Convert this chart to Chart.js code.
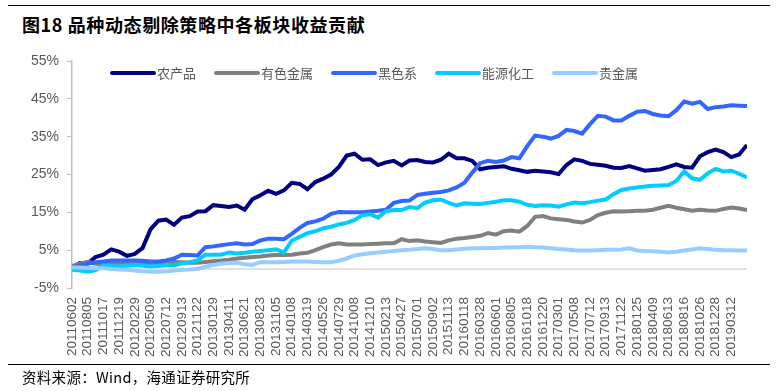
<!DOCTYPE html>
<html>
<head>
<meta charset="utf-8">
<script src="https://cdn.jsdelivr.net/npm/chart.js@4.4.1/dist/chart.umd.min.js"></script>
<style>
  html, body { margin: 0; padding: 0; background: #fff; }
  #wrap { position: relative; width: 777px; height: 391px; overflow: hidden; }
  #chart { position: absolute; left: 0; top: 0; }
  .rule { position: absolute; left: 8px; width: 762px; height: 0; border-top: 1.5px solid #000; }
  #title { position: absolute; left: 22px; top: 11px; font: bold 18px "Noto Sans CJK SC", sans-serif; letter-spacing: 0.6px; color: #000; white-space: nowrap; }
  #source { position: absolute; left: 22px; top: 366px; font: 14.5px "Noto Sans CJK SC", sans-serif; letter-spacing: 0.3px; color: #000; white-space: nowrap; }
</style>
</head>
<body>
<div id="wrap">
  <div class="rule" style="top:5px"></div>
  <div id="title">图18 品种动态剔除策略中各板块收益贡献</div>
  <canvas id="chart" width="777" height="391"></canvas>
  <div class="rule" style="top:364px"></div>
  <div id="source">资料来源：Wind，海通证券研究所</div>
</div>
<script>
// tick labels on the x axis (one every 1 unit); series sampled every half unit
const dates = ["20110602","20110805","20111017","20111219","20120229","20120509","20120712","20120913",
  "20121122","20130129","20130411","20130621","20130823","20131105","20140108","20140319","20140526",
  "20140729","20141008","20141210","20150213","20150427","20150701","20150902","20151113","20160118",
  "20160328","20160601","20160805","20161018","20161220","20170301","20170508","20170712","20170913",
  "20171122","20180125","20180409","20180613","20180816","20181026","20181228","20190312"];

const seriesNames = ["农产品", "有色金属", "黑色系", "能源化工", "贵金属"];

const agri = [0.3,1.6,1.5,3.2,3.8,5.2,4.6,3.5,4.0,5.6,10.5,12.8,13.1,11.7,13.6,14.0,15.2,15.3,16.9,16.7,
  16.4,16.8,15.7,18.5,19.5,20.7,19.9,20.8,22.8,22.5,21.1,23.0,23.9,25.0,27.0,30.0,30.5,28.9,29.0,27.5,
  28.2,28.6,27.4,28.7,28.8,28.3,28.2,28.9,30.5,29.3,29.3,28.6,26.4,26.8,27.0,27.2,26.5,26.1,25.7,26.0,
  25.8,25.6,25.1,27.5,29.0,28.6,27.8,27.6,27.3,26.8,26.7,27.2,26.6,26.0,26.2,26.4,27.0,27.7,27.0,26.8,
  29.8,30.9,31.6,30.9,29.6,30.3,32.8];

const nonferrous = [0.8,1.4,1.9,1.4,1.3,1.5,1.6,1.7,1.8,1.8,1.6,1.7,1.9,1.9,1.8,1.7,1.7,1.9,2.1,2.3,
  2.5,2.8,3.0,3.2,3.3,3.6,3.7,3.7,3.8,4.1,4.3,5.0,5.8,6.5,6.8,6.5,6.5,6.5,6.6,6.7,
  6.8,6.8,7.9,7.4,7.6,7.3,7.1,6.9,7.6,8.0,8.2,8.5,8.8,9.5,9.1,10.0,10.2,9.9,11.4,13.8,
  14.0,13.4,13.2,13.0,12.6,12.3,13.0,14.3,14.9,15.3,15.2,15.3,15.4,15.4,15.7,16.2,16.7,16.2,15.8,15.4,
  15.7,15.5,15.4,15.9,16.3,16.0,15.6];

const ferrous = [0.4,1.0,1.5,1.8,2.0,2.3,2.3,2.3,2.3,2.2,2.0,2.0,2.3,2.8,3.8,3.7,3.6,5.8,6.0,6.3,
  6.6,6.8,6.5,6.6,7.6,8.0,8.0,7.9,9.3,10.9,12.2,12.6,13.3,14.6,15.1,15.0,15.0,15.0,15.2,15.4,
  15.7,17.5,18.0,18.1,19.6,19.9,20.2,20.4,20.8,21.6,22.8,25.5,28.0,28.6,28.3,28.7,29.6,29.3,32.5,35.3,
  35.0,34.5,35.2,36.8,36.5,35.8,38.3,40.5,40.3,39.3,39.3,40.5,41.6,41.8,41.0,40.6,40.4,42.0,44.3,43.7,
  44.2,42.3,42.8,43.0,43.3,43.2,43.1];

const energy = [-0.2,-0.4,-0.7,-0.3,1.0,0.8,0.7,0.9,1.1,0.9,0.7,0.8,1.0,1.0,1.5,1.8,2.3,3.8,3.8,3.8,
  4.4,4.1,4.3,4.6,4.8,5.0,5.2,4.4,7.5,8.5,9.5,10.0,10.8,11.2,11.8,12.2,13.0,14.2,14.5,13.6,
  15.3,15.6,15.6,16.4,16.1,17.6,18.2,18.4,17.5,16.8,17.4,17.3,17.2,17.5,17.8,18.2,18.2,17.8,17.0,16.7,
  16.9,16.8,16.5,17.1,17.6,17.4,17.7,18.1,18.4,19.8,20.9,21.3,21.6,21.8,22.0,22.1,22.2,23.3,25.8,24.0,
  23.6,25.3,26.5,25.8,26.0,25.2,24.2];

const precious = [0.4,0.4,0.3,0.2,0.2,0.0,-0.1,-0.2,-0.4,-0.6,-0.7,-0.7,-0.6,-0.4,-0.2,-0.1,0.1,0.6,1.1,1.4,
  1.6,1.7,1.3,1.1,1.9,1.8,1.8,1.9,2.0,2.0,2.0,1.9,1.8,1.8,2.2,2.8,3.6,3.9,4.2,4.4,
  4.6,4.8,5.0,5.1,5.3,5.5,5.3,5.0,5.0,5.2,5.4,5.5,5.5,5.6,5.6,5.7,5.8,5.8,5.9,5.8,
  5.7,5.5,5.3,5.2,5.0,4.9,4.9,5.0,5.1,5.1,5.2,5.5,4.9,4.8,4.7,4.6,4.4,4.6,4.9,5.2,
  5.5,5.3,5.1,5.0,5.0,4.9,4.9];

const yTicks = [-5, 5, 15, 25, 35, 45, 55];

const colors = ["#000080", "#808080", "#3366ff", "#00ccff", "#99ccff"];
const allSeries = [agri, nonferrous, ferrous, energy, precious];

const datasets = allSeries.map((vals, s) => ({
  label: seriesNames[s],
  data: vals.map((v, i) => ({ x: i / 2, y: v })),
  borderColor: colors[s],
  backgroundColor: colors[s],
  borderWidth: 4,
  pointRadius: 0,
  tension: 0,
  order: 5 - s   // later series on top, like the original
}));

Chart.defaults.font.family = '"Liberation Sans", Arial, sans-serif';
Chart.defaults.color = '#595959';

// light horizontal line at 0%
const zeroLine = {
  id: 'zeroLine',
  beforeDatasetsDraw(chart) {
    const { ctx, chartArea, scales } = chart;
    const y = scales.y.getPixelForValue(0);
    ctx.save();
    ctx.strokeStyle = '#d9d9d9';
    ctx.lineWidth = 1.5;
    ctx.beginPath();
    ctx.moveTo(chartArea.left, y);
    ctx.lineTo(chartArea.right, y);
    ctx.stroke();
    ctx.restore();
  }
};

// legend sits inside the plot, drawn by hand
const innerLegend = {
  id: 'innerLegend',
  afterDatasetsDraw(chart) {
    const ctx = chart.ctx;
    let x = 112;
    const y = 73;
    ctx.save();
    ctx.font = '13px "Noto Sans CJK SC", sans-serif';
    ctx.textBaseline = 'middle';
    chart.data.datasets.forEach(ds => {
      ctx.strokeStyle = ds.borderColor;
      ctx.lineWidth = 4;
      ctx.lineCap = 'round';
      ctx.beginPath();
      ctx.moveTo(x, y);
      ctx.lineTo(x + 42, y);
      ctx.stroke();
      ctx.fillStyle = '#595959';
      ctx.fillText(ds.label, x + 45, y);
      x += 45 + ctx.measureText(ds.label).width + 20;
    });
    ctx.restore();
  }
};

new Chart(document.getElementById('chart'), {
  type: 'line',
  data: { datasets },
  options: {
    responsive: false,
    animation: false,
    layout: { padding: { left: 0, right: 30, top: 61, bottom: 0 } },
    plugins: { legend: { display: false }, tooltip: { enabled: false } },
    scales: {
      x: {
        type: 'linear',
        min: 0,
        max: (agri.length - 1) / 2,
        afterFit(scale) { scale.height = 103; },
        grid: { display: false, drawTicks: false },
        border: { display: false },
        ticks: {
          stepSize: 1,
          autoSkip: false,
          maxRotation: 90,
          minRotation: 90,
          padding: 9,
          font: { size: 13.5 },
          callback: v => dates[v] || ''
        }
      },
      y: {
        min: -5,
        max: 55,
        afterFit(scale) { scale.width = 72; },
        afterBuildTicks(scale) { scale.ticks = yTicks.map(v => ({ value: v })); },
        grid: { drawOnChartArea: false, drawTicks: true, tickLength: 5, color: '#bfbfbf' },
        border: { display: true, color: '#bfbfbf', width: 1.5 },
        ticks: {
          padding: 8,
          font: { size: 14 },
          callback: v => v + '%'
        }
      }
    }
  },
  plugins: [zeroLine, innerLegend]
});
</script>
</body>
</html>
